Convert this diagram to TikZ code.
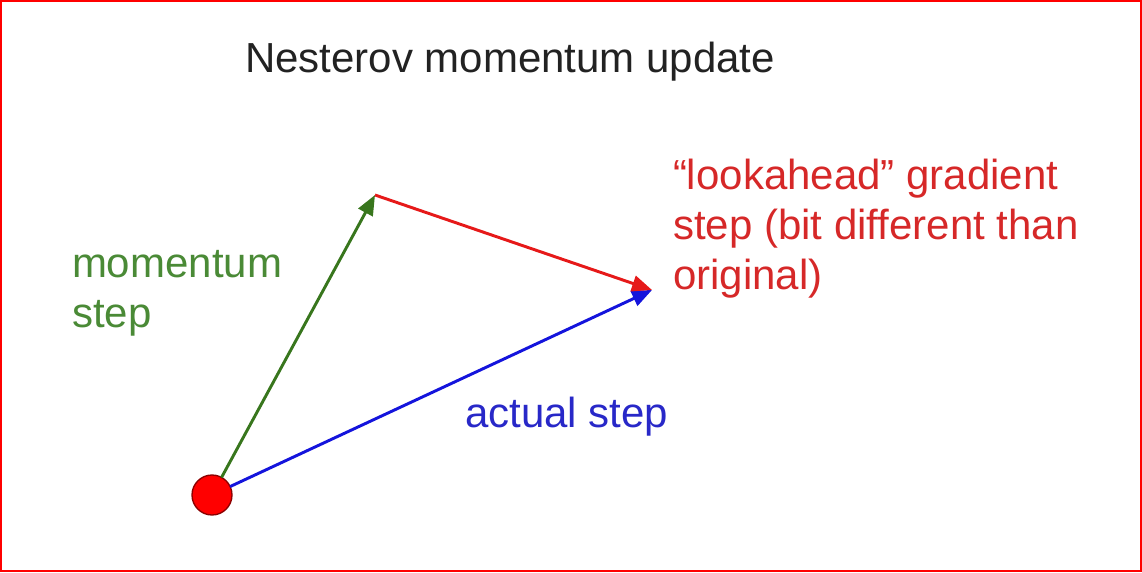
\documentclass[tikz,border=0pt]{standalone}
\usepackage{fontspec}
\setmainfont{Liberation Sans}
\usepackage{tikz}
\definecolor{cFF0000}{RGB}{255,0,0}
\definecolor{c222222}{RGB}{34,34,34}
\definecolor{c38761D}{RGB}{56,118,29}
\definecolor{c4A8A36}{RGB}{74,138,54}
\definecolor{cE61919}{RGB}{230,25,25}
\definecolor{cD62828}{RGB}{214,40,40}
\definecolor{c1414DC}{RGB}{20,20,220}
\definecolor{c2828C8}{RGB}{40,40,200}
\definecolor{c8B0000}{RGB}{139,0,0}
\usetikzlibrary{arrows.meta}

\tikzset{
  lbl/.style={anchor=base west,align=left,font=\fontsize{31.5}{37.5}\selectfont},
  vec/.style={line width=2.2pt,-{Triangle[length=15pt,width=12pt]}},
  dot/.style={circle,fill=cFF0000,draw=c8B0000,line width=1pt,minimum size=30pt}
}

\begin{document}
\begin{tikzpicture}[y=0.75pt,x=0.75pt,yscale=-1, inner sep=0pt, outer sep=0pt]
    \useasboundingbox (0,0) rectangle (1142,573);
    \path[draw=cFF0000,line width=1.5pt] (1,1) rectangle (1140.5,571);

    % points of the update
    \coordinate (look) at (375,195);
    \coordinate (target) at (652,290);
    \node[dot] (start) at (212,495) {};

    % steps
    \draw[vec,draw=c1414DC,fill=c1414DC] (start) -- (target);
    \draw[vec,draw=c38761D,fill=c38761D] (start) -- (look);
    \draw[vec,draw=cE61919,fill=cE61919] (look) -- (target);

    % labels (multi-line ones sit on their last baseline)
    \node[lbl,text=c222222] (title) at (245,73) {Nesterov momentum update};
    \node[lbl,text=c4A8A36] (momlbl) at (72,328) {momentum\\step};
    \node[lbl,text=c2828C8] (actlbl) at (465,427) {actual step};
    \node[lbl,text=cD62828] (gradlbl) at (673,290)
      {“lookahead” gradient\\step (bit different than\\original)};
\end{tikzpicture}
\end{document}
